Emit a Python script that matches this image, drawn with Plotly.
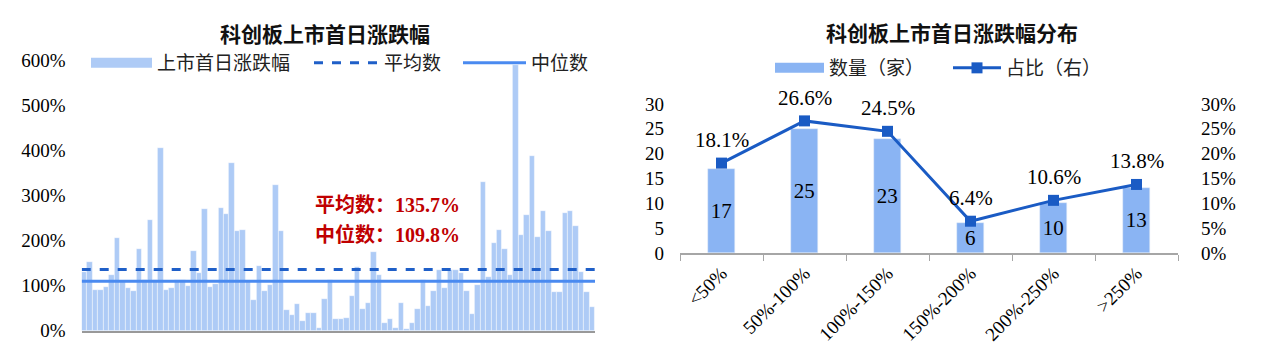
import plotly.graph_objects as go

# ---------------- data: left chart ----------------
first_day_return = [
    131, 152, 90, 90, 97, 123, 205, 108, 95, 88,
    180, 112, 245, 112, 404, 90, 95, 112, 112, 99,
    176, 129, 269, 96, 103, 273, 258, 371, 221, 224,
    110, 68, 143, 88, 101, 322, 222, 45, 34, 59,
    22, 40, 40, 5, 70, 112, 25, 25, 29, 78,
    141, 49, 61, 175, 123, 16, 25, 5, 61, 3,
    16, 49, 112, 55, 88, 135, 95, 135, 135, 127,
    88, 38, 102, 330, 119, 195, 224, 180, 123, 590,
    213, 256, 387, 208, 265, 220, 86, 86, 260, 265,
    232, 130, 86, 53,
]
stock_no = list(range(1, len(first_day_return) + 1))
mean_value = 135.7
median_value = 109.8
left_tickvals = [0, 100, 200, 300, 400, 500, 600]

# ---------------- data: right chart ----------------
bins = ["<50%", "50%-100%", "100%-150%", "150%-200%", "200%-250%", ">250%"]
counts = [17, 25, 23, 6, 10, 13]
shares = [18.1, 26.6, 24.5, 6.4, 10.6, 13.8]
count_ticks = [0, 5, 10, 15, 20, 25, 30]
share_ticks = [0, 5, 10, 15, 20, 25, 30]

SERIF = "Liberation Serif, 'Noto Sans CJK SC', serif"
CJK = "'Noto Sans CJK SC', Liberation Serif, sans-serif"

# page has an 8px body margin; size figure to fit the window
OFF = 8
W, H = 1269 - 2 * OFF, 360 - 2 * OFF


def fx(px):
    return (px - OFF) / W


def fy(py):
    return 1 - (py - OFF) / H


fig = go.Figure()

# left bars
fig.add_trace(go.Bar(
    x=stock_no, y=first_day_return,
    marker=dict(color="#aecbf6", line=dict(width=0.6, color="rgba(255,255,255,0.7)")),
    name="上市首日涨跌幅", showlegend=False, xaxis="x", yaxis="y", hoverinfo="skip",
))
# legend proxy for bar series (wide swatch like the reference)
fig.add_trace(go.Scatter(
    x=[None], y=[None], mode="lines", line=dict(color="#aecbf6", width=12),
    name="上市首日涨跌幅", legend="legend", xaxis="x", yaxis="y",
))
x_span = [stock_no[0] - 0.5, stock_no[-1] + 0.5]
fig.add_trace(go.Scatter(
    x=x_span, y=[mean_value, mean_value], mode="lines",
    line=dict(color="#1f5fc8", width=3, dash="dash"), name="平均数",
    legend="legend3", xaxis="x", yaxis="y", hoverinfo="skip",
))
fig.add_trace(go.Scatter(
    x=x_span, y=[median_value, median_value], mode="lines",
    line=dict(color="#4a8af0", width=3), name="中位数",
    legend="legend4", xaxis="x", yaxis="y", hoverinfo="skip",
))

# right bars
fig.add_trace(go.Bar(
    x=bins, y=counts, width=0.32, marker=dict(color="#8ab4f3"),
    text=[str(c) for c in counts], textposition="inside", insidetextanchor="middle",
    textangle=0, constraintext="none",
    textfont=dict(family=SERIF, size=21, color="#000"),
    name="数量（家）", showlegend=False, xaxis="x2", yaxis="y2", hoverinfo="skip",
))
fig.add_trace(go.Scatter(
    x=[None], y=[None], mode="lines", line=dict(color="#8ab4f3", width=11),
    name="数量（家）", legend="legend2", xaxis="x2", yaxis="y2",
))
fig.add_trace(go.Scatter(
    x=bins, y=shares, mode="lines+markers",
    line=dict(color="#1a5bc4", width=3),
    marker=dict(symbol="square", size=11, color="#1a5bc4"),
    name="占比（右）", legend="legend5", xaxis="x2", yaxis="y3", hoverinfo="skip",
))

annotations = [
    dict(text="<b>科创板上市首日涨跌幅</b>", x=fx(325), y=fy(33), xref="paper", yref="paper",
         xanchor="center", yanchor="middle", showarrow=False,
         font=dict(family=CJK, size=21, color="#111")),
    dict(text="<b>科创板上市首日涨跌幅分布</b>", x=fx(952), y=fy(32), xref="paper", yref="paper",
         xanchor="center", yanchor="middle", showarrow=False,
         font=dict(family=CJK, size=21, color="#111")),
    dict(text=f"<b>平均数：{mean_value}%</b>", x=fx(313), y=fy(205), xref="paper", yref="paper",
         xanchor="left", yanchor="middle", showarrow=False,
         font=dict(family=SERIF, size=20, color="#c00000")),
    dict(text=f"<b>中位数：{median_value}%</b>", x=fx(313), y=fy(235), xref="paper", yref="paper",
         xanchor="left", yanchor="middle", showarrow=False,
         font=dict(family=SERIF, size=20, color="#c00000")),
]
for b, s in zip(bins, shares):
    annotations.append(dict(
        text=f"{s}%", x=b, y=s, xref="x2", yref="y3", showarrow=False,
        xanchor="center", yanchor="middle", yshift=23,
        font=dict(family=SERIF, size=21, color="#000"),
    ))


def leg(xpx, ypx, width):
    return dict(orientation="h", x=fx(xpx), xanchor="left", y=fy(ypx), yanchor="middle",
                font=dict(family=CJK, size=19, color="#222"), itemwidth=width,
                bgcolor="rgba(0,0,0,0)", borderwidth=0)


fig.update_layout(
    width=W, height=H, autosize=False,
    margin=dict(l=0, r=0, t=0, b=0, autoexpand=False),
    paper_bgcolor="white", plot_bgcolor="white",
    font=dict(family=SERIF, size=19, color="#000"),
    bargap=0, showlegend=True,
    xaxis=dict(domain=[fx(81.7), fx(595)], range=x_span, showticklabels=False,
               showgrid=False, zeroline=False, showline=True, linecolor="#999", linewidth=2,
               ticks="", anchor="y", fixedrange=True),
    yaxis=dict(domain=[fy(330.7), fy(60)], range=[0, 600], tickvals=left_tickvals,
               ticktext=[f"{v}%" for v in left_tickvals], showgrid=False, zeroline=False,
               showline=False, ticklabelstandoff=15, tickfont=dict(family=SERIF, size=19),
               anchor="x"),
    xaxis2=dict(domain=[fx(680), fx(1178)], type="category", tickangle=-45,
                showgrid=False, zeroline=False, showline=True, linecolor="#a6a6a6", linewidth=1.5,
                ticks="outside", ticklen=6, tickcolor="#a6a6a6", tickson="boundaries",
                tickfont=dict(family=SERIF, size=19), anchor="y2"),
    yaxis2=dict(domain=[fy(253), fy(104)], range=[0, 30], tickvals=count_ticks,
                showgrid=False, zeroline=False, showline=False, ticklabelstandoff=15,
                tickfont=dict(family=SERIF, size=19), anchor="x2"),
    yaxis3=dict(domain=[fy(253), fy(104)], range=[0, 30], tickvals=share_ticks,
                ticktext=[f"{v}%" for v in share_ticks], overlaying="y2", side="right",
                showgrid=False, zeroline=False, showline=False, ticklabelstandoff=22,
                tickfont=dict(family=SERIF, size=19), anchor="x2"),
    legend=leg(86, 63, 61),
    legend3=leg(309, 63, 65),
    legend4=leg(458, 63, 63),
    legend2=leg(770, 68, 49),
    legend5=leg(948, 68, 48),
    annotations=annotations,
)

fig.write_html("out.html")
